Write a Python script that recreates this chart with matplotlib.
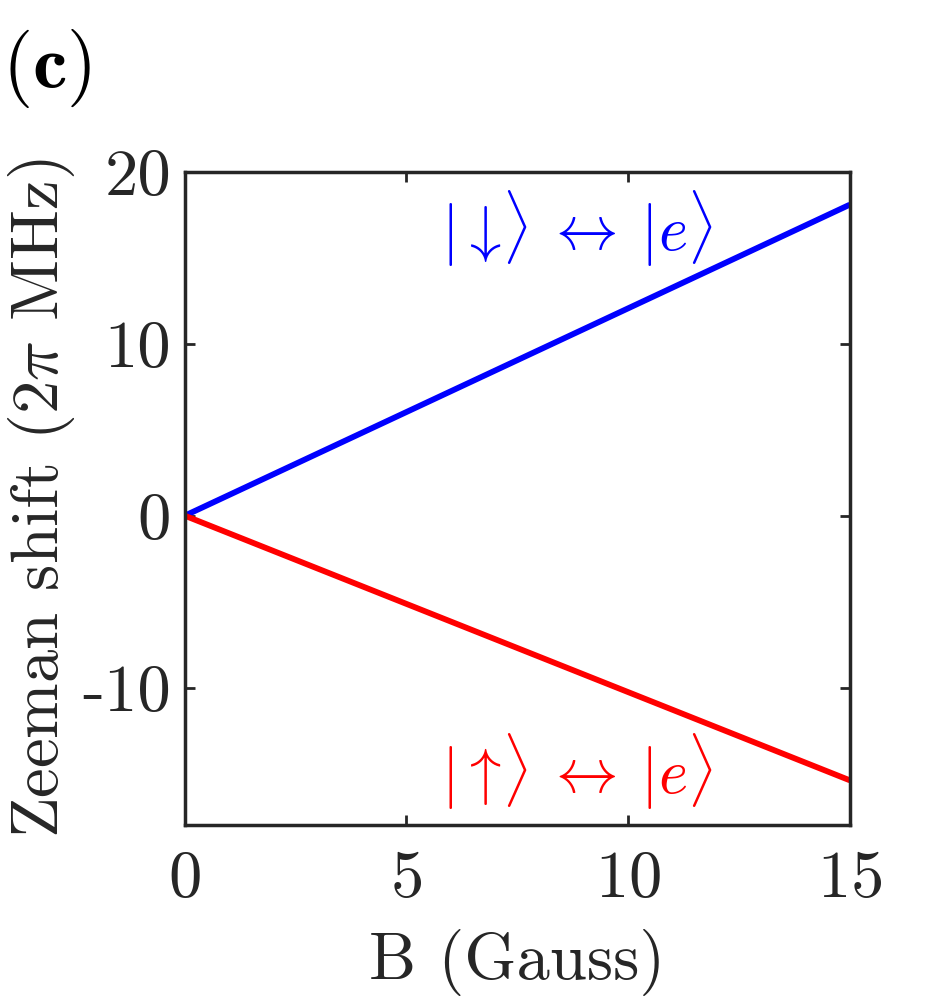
import numpy as np
import matplotlib
matplotlib.use('Agg')
import matplotlib.pyplot as plt

plt.rcParams['font.family'] = 'serif'
plt.rcParams['font.serif'] = ['cmr10']
plt.rcParams['mathtext.fontset'] = 'cm'
plt.rcParams['axes.unicode_minus'] = False
plt.rcParams['axes.formatter.use_mathtext'] = True

# data
B = [0, 15]
shift_down = [0, 18.1]
shift_up = [0, -15.4]
xticks = [0, 5, 10, 15]
yticks = [-10, 0, 10, 20]
ytick_labels = ['-10', '0', '10', '20']

dark = '#262626'
fs = 48

fig = plt.figure(figsize=(9.38, 10), dpi=100)
ax = fig.add_axes([0.197, 0.175, 0.709, 0.653])

ax.plot(B, shift_down, color='#0000ff', lw=4.2, solid_capstyle='butt')
ax.plot(B, shift_up, color='#ff0000', lw=4.2, solid_capstyle='butt')

ax.text(8.85, 16.7, r'$|{\downarrow}\!\rangle\:\leftrightarrow\:|e\rangle$',
        color='#0000ff', fontsize=45, ha='center', va='center')
ax.text(8.85, -14.9, r'$|{\uparrow}\!\rangle\:\leftrightarrow\:|e\rangle$',
        color='#ff0000', fontsize=45, ha='center', va='center')

ax.set_xlim(0, 15)
ax.set_ylim(-18, 20)
ax.set_xticks(xticks)
ax.set_yticks(yticks)
ax.set_yticklabels(ytick_labels)
ax.tick_params(direction='in', length=7, width=2, colors=dark,
               labelsize=fs, top=True, right=True, pad=10)
ax.tick_params(axis='x', pad=18)
for s in ax.spines.values():
    s.set_linewidth(2.5)
    s.set_color(dark)

ax.set_xlabel('B (Gauss)', fontsize=fs, color=dark, labelpad=14)
ax.set_ylabel(r'Zeeman shift ($2\pi$ MHz)', fontsize=fs, color=dark, labelpad=4)

fig.text(0.002, 0.932, r'($\mathbf{c}$)', fontsize=56, ha='left', va='center', color='black')

fig.savefig('out.png', dpi=100)
